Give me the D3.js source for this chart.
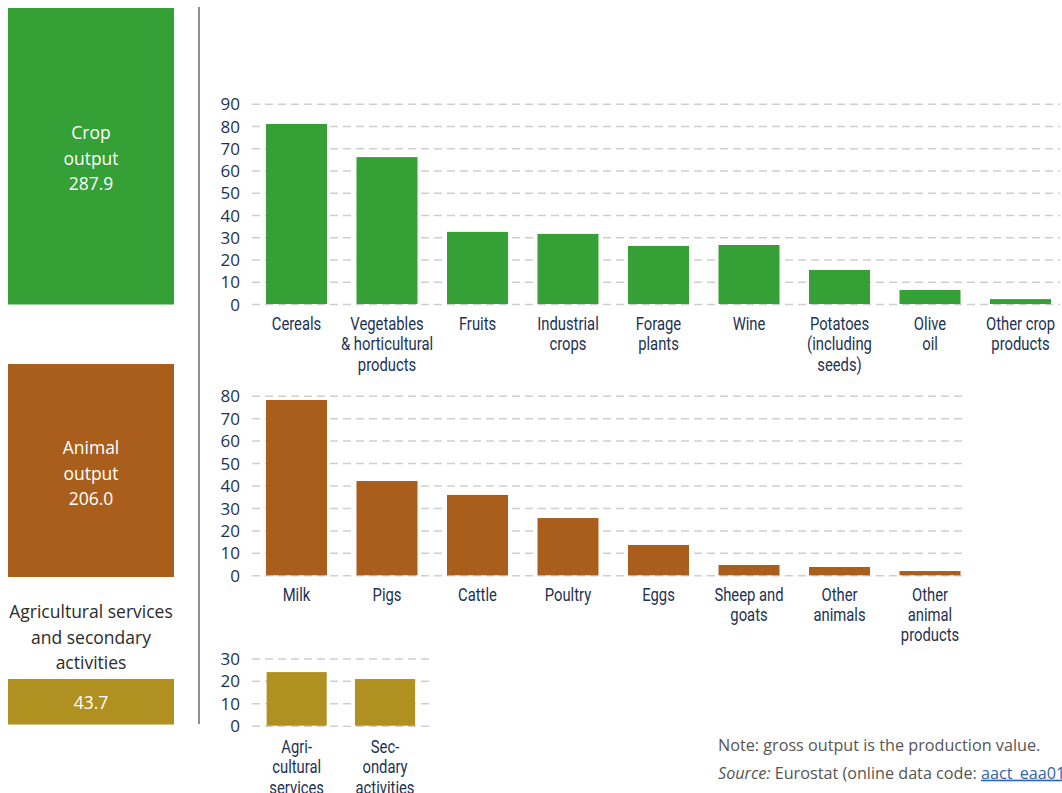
<!DOCTYPE html>
<html>
<head>
<meta charset="utf-8">
<script src="https://cdn.jsdelivr.net/npm/d3@7"></script>
<style>
  html, body { margin: 0; padding: 0; background: #fff; }
  svg { display: block; }
  .tick text { font-family: "Open Sans", "Noto Sans", sans-serif; font-size: 17px; fill: #1c3253; }
  .cat { font-family: Roboto, "Noto Sans", sans-serif; font-size: 18.5px; fill: #1c3253; }
  .box { font-family: "Open Sans", "Noto Sans", sans-serif; font-size: 17.5px; }
  .note { font-family: "Open Sans", "Noto Sans", sans-serif; font-size: 16.2px; fill: #555; }
</style>
</head>
<body>
<svg id="chart" width="1062" height="793"></svg>
<script>
// ---- Data ----
const cropCategories = ["Cereals", "Vegetables\n& horticultural\nproducts", "Fruits", "Industrial\ncrops", "Forage\nplants", "Wine", "Potatoes\n(including\nseeds)", "Olive\noil", "Other crop\nproducts"];
const cropValues = [80.9, 66.0, 32.4, 31.5, 26.1, 26.5, 15.3, 6.3, 2.2];
const cropTicks = [0, 10, 20, 30, 40, 50, 60, 70, 80, 90];

const animalCategories = ["Milk", "Pigs", "Cattle", "Poultry", "Eggs", "Sheep and\ngoats", "Other\nanimals", "Other\nanimal\nproducts"];
const animalValues = [78.1, 42.0, 35.8, 25.5, 13.5, 4.6, 3.7, 1.9];
const animalTicks = [0, 10, 20, 30, 40, 50, 60, 70, 80];

const serviceCategories = ["Agri-\ncultural\nservices", "Sec-\nondary\nactivities"];
const serviceValues = [23.9, 20.8];
const serviceTicks = [0, 10, 20, 30];

const groupLabels = [["Crop", "output", "287.9"], ["Animal", "output", "206.0"], ["Agricultural services", "and secondary", "activities"]];
const serviceTotal = "43.7";

const colors = { crop: "#34a035", animal: "#a95f1b", service: "#b09020" };

// ---- Drawing ----
const svg = d3.select("#chart");

function panel(cfg) {
  const g = svg.append("g");
  const y = d3.scaleLinear().domain([0, cfg.max]).range([cfg.y0, cfg.y1]);
  const x = d3.scaleBand().domain(cfg.cats).range(cfg.xr).paddingInner(cfg.pi).paddingOuter(cfg.pi / 2);
  const axisX = 252;
  const ax = g.append("g").attr("transform", `translate(${axisX},0)`)
    .call(d3.axisLeft(y).tickValues(cfg.ticks).tickSize(-(cfg.gridEnd - axisX)).tickPadding(12).tickFormat(d3.format("d")));
  ax.select(".domain").remove();
  ax.selectAll(".tick line").attr("stroke", "#cfcfcf").attr("stroke-width", 1.5).attr("stroke-dasharray", "8,5");
  ax.selectAll(".tick text").attr("x", -12).attr("dy", "0.36em");

  g.selectAll("rect.bar").data(cfg.vals).join("rect")
    .attr("class", "bar")
    .attr("x", (d, i) => x(cfg.cats[i]))
    .attr("width", x.bandwidth())
    .attr("y", d => y(d))
    .attr("height", d => y(0) - y(d))
    .attr("fill", cfg.color);

  const labels = g.selectAll("text.cat").data(cfg.cats).join("text")
    .attr("class", "cat")
    .attr("text-anchor", "middle")
    .attr("transform", d => `translate(${x(d) + x.bandwidth() / 2},${y(0) + cfg.labelOff}) scale(0.8,1)`);
  labels.each(function (d) {
    const t = d3.select(this);
    d.split("\n").forEach((line, i) => {
      t.append("tspan").attr("x", 0).attr("y", i * 20.3).attr("dy", "0.35em").text(line);
    });
  });
}

panel({ cats: cropCategories, vals: cropValues, ticks: cropTicks, max: 90, y0: 304, y1: 103.7,
  xr: [251.25, 1065.75], pi: 0.326, gridEnd: 1060, color: colors.crop, labelOff: 19.5 });
panel({ cats: animalCategories, vals: animalValues, ticks: animalTicks, max: 80, y0: 575.3, y1: 395.7,
  xr: [251.25, 975.25], pi: 0.326, gridEnd: 967, color: colors.animal, labelOff: 19 });
panel({ cats: serviceCategories, vals: serviceValues, ticks: serviceTicks, max: 30, y0: 725.7, y1: 658.4,
  xr: [252.5, 429.2], pi: 0.32, gridEnd: 430, color: colors.service, labelOff: 21 });

// divider
svg.append("line").attr("x1", 199).attr("x2", 199).attr("y1", 7).attr("y2", 724)
  .attr("stroke", "#6b6b6b").attr("stroke-width", 1.5);

// left boxes
function boxText(lines, cx, cy0, fill) {
  const t = svg.append("text").attr("class", "box").attr("text-anchor", "middle").attr("fill", fill);
  lines.forEach((l, i) => t.append("tspan").attr("x", cx).attr("y", cy0 + i * 25.5).attr("dy", "0.35em").text(l));
}
svg.append("rect").attr("x", 8).attr("y", 8).attr("width", 166).attr("height", 296.5).attr("fill", colors.crop);
boxText(groupLabels[0], 91, 133, "#fff");
svg.append("rect").attr("x", 8).attr("y", 364).attr("width", 166).attr("height", 213).attr("fill", colors.animal);
boxText(groupLabels[1], 91, 448, "#fff");
boxText(groupLabels[2], 91, 612, "#2b2b2b");
svg.append("rect").attr("x", 8).attr("y", 679).attr("width", 166).attr("height", 45.5).attr("fill", colors.service);
boxText([serviceTotal], 91, 703, "#fff");

// notes
svg.append("text").attr("class", "note").attr("x", 718).attr("y", 745).attr("dy", "0.35em")
  .text("Note: gross output is the production value.");
const src = svg.append("text").attr("class", "note").attr("x", 718).attr("y", 773).attr("dy", "0.35em");
src.append("tspan").attr("font-style", "italic").text("Source:");
src.append("tspan").text(" Eurostat (online data code: ");
src.append("tspan").attr("fill", "#2f63b5").attr("text-decoration", "underline").text("aact_eaa01");
src.append("tspan").text(")");
</script>
</body>
</html>
